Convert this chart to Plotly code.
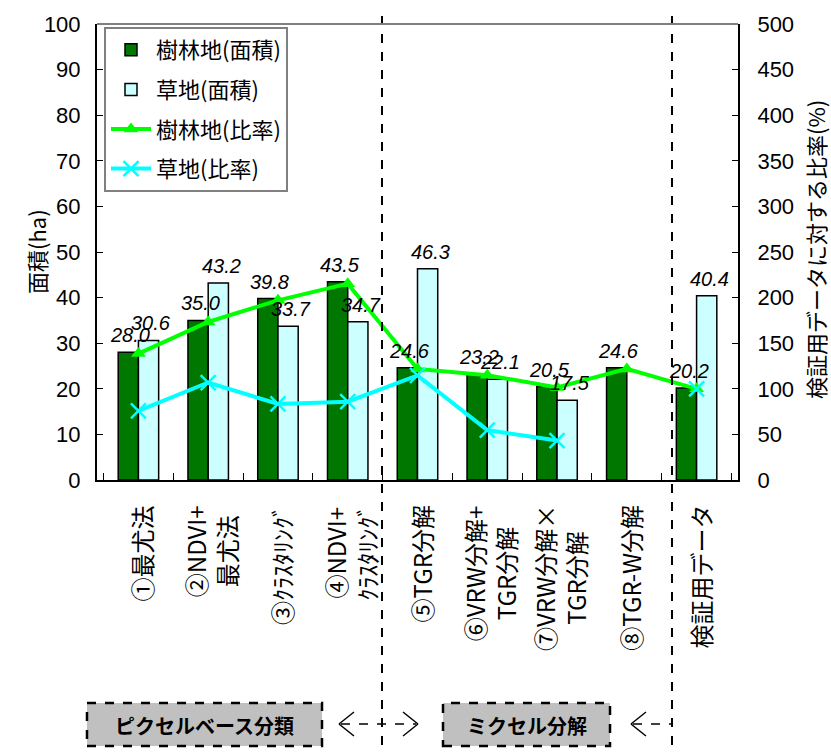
import plotly.graph_objects as go

# ---- data -----------------------------------------------------------------
categories = [
    "①最尤法",
    "②NDVI+<br>最尤法",
    "③ｸﾗｽﾀﾘﾝｸﾞ",
    "④NDVI+<br>ｸﾗｽﾀﾘﾝｸﾞ",
    "⑤TGR分解",
    "⑥VRW分解+<br>TGR分解",
    "⑦VRW分解×<br>TGR分解",
    "⑧TGR-W分解",
    "検証用データ",
]
forest_area = [28.0, 35.0, 39.8, 43.5, 24.6, 23.2, 20.5, 24.6, 20.2]
grass_area = [30.6, 43.2, 33.7, 34.7, 46.3, 22.1, 17.5, None, 40.4]
forest_ratio = [138.6, 173.3, 197.0, 215.3, 121.8, 114.9, 101.5, 121.8, 100.0]
grass_ratio = [75.7, 106.9, 83.4, 85.9, 114.6, 54.7, 43.3, None, 100.0]

left_ticks = list(range(0, 101, 10))
right_ticks = list(range(0, 501, 50))

# ---- layout geometry (pixels) --------------------------------------------
W, H = 831, 753
L, R, T, B = 97, 738, 24, 480
PW, PH = R - L, B - T


def px(x):
    return (x - L) / PW


def py(y):
    return (B - y) / PH


JP = "Noto Sans CJK JP"
NUM = "Liberation Sans Narrow, Arial Narrow, Liberation Sans, sans-serif"

fig = go.Figure()

fig.add_trace(go.Bar(
    x=categories, y=forest_area, name="樹林地(面積)",
    marker=dict(color="#007800", line=dict(color="black", width=1.5)),
    legendgroup="a",
))
fig.add_trace(go.Bar(
    x=categories, y=grass_area, name="草地(面積)",
    marker=dict(color="#CCFFFF", line=dict(color="black", width=1.5)),
    legendgroup="b",
))
fig.add_trace(go.Scatter(
    x=categories, y=forest_ratio, name="樹林地(比率)", yaxis="y2",
    mode="lines+markers",
    line=dict(color="#00FF00", width=4),
    marker=dict(symbol="triangle-up", size=13, color="#00FF00"),
    legendgroup="c",
))
fig.add_trace(go.Scatter(
    x=categories, y=grass_ratio, name="草地(比率)", yaxis="y2",
    mode="lines+markers", connectgaps=False,
    line=dict(color="#00FFFF", width=4),
    marker=dict(symbol="x-thin", size=15, color="#00FFFF",
                line=dict(color="#00FFFF", width=2.5)),
    legendgroup="d",
))

annotations = []

# value labels above bars
label_font = dict(family=NUM, size=20, color="black", style="italic")
for cat, v in zip(categories, forest_area):
    if v is not None:
        annotations.append(dict(x=cat, y=v, xref="x", yref="y", text=f"{v:.1f}",
                                showarrow=False, yanchor="bottom", xshift=-8,
                                yshift=4, font=label_font))
for cat, v in zip(categories, grass_area):
    if v is not None:
        annotations.append(dict(x=cat, y=v, xref="x", yref="y", text=f"{v:.1f}",
                                showarrow=False, yanchor="bottom", xshift=13,
                                yshift=4, font=label_font))

# rotated category labels below the axis
for cat in categories:
    annotations.append(dict(x=cat, y=py(503), xref="x", yref="paper", text=cat,
                            textangle=-90, showarrow=False, xanchor="center",
                            yanchor="top", align="center", xshift=3,
                            font=dict(family=JP, size=24, color="black")))

# axis titles
annotations.append(dict(x=px(36), y=0.5, xref="paper", yref="paper",
                        text="面積(ha)", textangle=-90, showarrow=False,
                        xanchor="center", yanchor="middle",
                        font=dict(family=JP, size=22, color="black")))
annotations.append(dict(x=px(815), y=py(250), xref="paper", yref="paper",
                        text="検証用データに対する比率(%)", textangle=-90,
                        showarrow=False, xanchor="center", yanchor="middle",
                        font=dict(family=JP, size=22, color="black")))

# group captions under the chart
box_font = dict(family=JP, size=20, color="black", weight="bold")
annotations.append(dict(x=(px(87) + px(322)) / 2, y=py(725), xref="paper", yref="paper",
                        text="ピクセルベース分類", showarrow=False,
                        xanchor="center", yanchor="middle", font=box_font))
annotations.append(dict(x=(px(443) + px(610)) / 2, y=py(725), xref="paper", yref="paper",
                        text="ミクセル分解", showarrow=False,
                        xanchor="center", yanchor="middle", font=box_font))

shapes = []
# group boxes
for x0, x1 in [(87, 322), (443, 610)]:
    shapes.append(dict(type="rect", xref="paper", yref="paper",
                       x0=px(x0), x1=px(x1), y0=py(746), y1=py(703),
                       fillcolor="#C0C0C0",
                       line=dict(color="black", width=2.5, dash="dash"),
                       layer="above"))
# vertical separators
for xs in [382, 672]:
    shapes.append(dict(type="line", xref="paper", yref="paper",
                       x0=px(xs), x1=px(xs), y0=py(16), y1=py(753),
                       line=dict(color="black", width=2, dash="dash")))
# top frame line
shapes.append(dict(type="line", xref="paper", yref="paper", x0=0, x1=1, y0=1, y1=1,
                   line=dict(color="#808080", width=2)))


def seg(x0, y0, x1, y1, dash="solid"):
    return dict(type="line", xref="paper", yref="paper",
                x0=px(x0), y0=py(y0), x1=px(x1), y1=py(y1),
                line=dict(color="black", width=1.5, dash=dash))


ay = 724
# double arrow between the two groups
shapes += [seg(339, ay, 354, ay - 12), seg(339, ay, 354, ay + 12),
           seg(341, ay, 416, ay, "dash"),
           seg(418, ay, 403, ay - 12), seg(418, ay, 403, ay + 12)]
# arrow pointing from the reference column
shapes += [seg(631, ay, 646, ay - 12), seg(631, ay, 646, ay + 12),
           seg(633, ay, 672, ay, "dash")]

fig.update_layout(
    width=W, height=H,
    margin=dict(l=L, r=W - R, t=T, b=H - B, autoexpand=False),
    paper_bgcolor="white", plot_bgcolor="white",
    barmode="group", bargap=0.42, bargroupgap=0,
    showlegend=True,
    legend=dict(x=px(104), y=py(27), xanchor="left", yanchor="top",
                bgcolor="white", bordercolor="#808080", borderwidth=2,
                font=dict(family=JP, size=22, color="black"),
                traceorder="grouped", tracegroupgap=8, itemwidth=40),
    xaxis=dict(
        type="category", categoryorder="array", categoryarray=categories,
        showline=True, linecolor="black", linewidth=2,
        ticks="inside", tickson="boundaries", ticklen=7, tickcolor="black",
        showticklabels=False,
        showgrid=False, zeroline=False,
    ),
    yaxis=dict(
        range=[0, 100], tickvals=left_ticks,
        showline=True, linecolor="black", linewidth=2,
        ticks="inside", ticklen=6, tickcolor="black",
        ticklabelstandoff=10,
        tickfont=dict(family=NUM, size=22, color="black"),
        showgrid=False, zeroline=False,
    ),
    yaxis2=dict(
        range=[0, 500], tickvals=right_ticks, overlaying="y", side="right",
        showline=True, linecolor="black", linewidth=2,
        ticks="inside", ticklen=6, tickcolor="black",
        ticklabelstandoff=13,
        tickfont=dict(family=NUM, size=22, color="black"),
        showgrid=False, zeroline=False,
    ),
    annotations=annotations,
    shapes=shapes,
)

fig.write_html("out.html")
